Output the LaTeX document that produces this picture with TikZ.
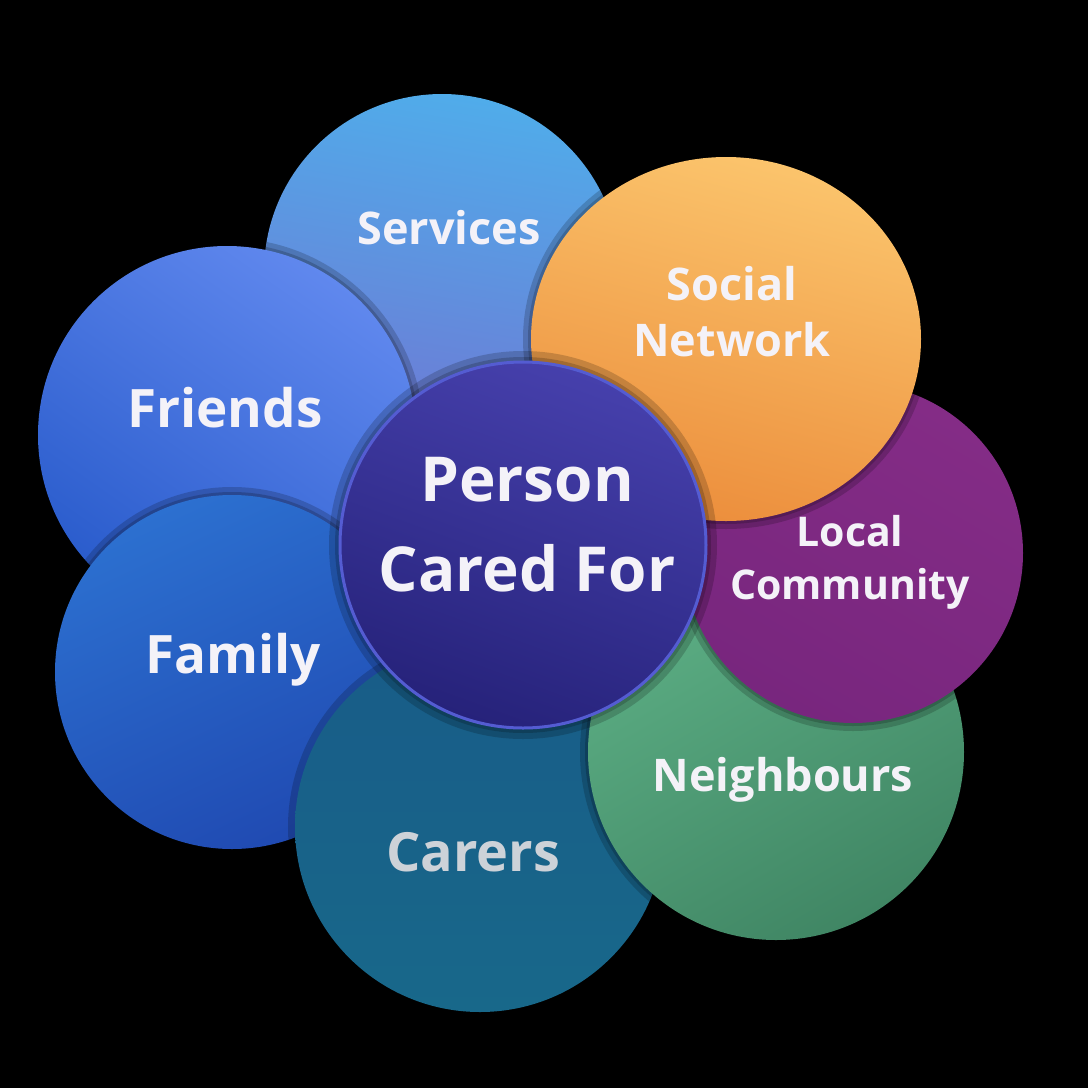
\documentclass[tikz,border=0pt]{standalone}
\usepackage{fontspec}
\setmainfont{Open Sans}
\usetikzlibrary{shapes.geometric}
\begin{document}
\begin{tikzpicture}[x=1pt,y=-1pt,
  bubble/.style={circle, inner sep=0pt, outer sep=0pt, minimum size=#1},
  lbl/.style={text={rgb,255:red,244;green,242;blue,248}, align=center, inner sep=0pt},
  shade1/.style={fill=black, fill opacity=0.18},
]
\useasboundingbox (0,0) rectangle (1088,1088);
\fill[black] (0,0) rectangle (1088,1088);

% Services
\fill[shade1] (442,272) circle (186);
\node[bubble=356pt, left color={rgb,255:red,80;green,172;blue,234}, middle color={rgb,255:red,52;green,130;blue,214}, right color={rgb,255:red,110;green,120;blue,212}, shading angle=-10] (services) at (442,272) {};
% Friends
\fill[shade1] (227,435) circle (197);
\fill[shade1] (227,435) circle (192);
\node[bubble=378pt, top color={rgb,255:red,96;green,136;blue,238}, middle color={rgb,255:red,56;green,118;blue,224}, bottom color={rgb,255:red,42;green,92;blue,204}, shading angle=-35] (friends) at (227,435) {};
% Family
\fill[shade1] (232,672) circle (185);
\fill[shade1] (232,672) circle (180);
\node[bubble=354pt, top color={rgb,255:red,44;green,112;blue,208}, bottom color={rgb,255:red,32;green,74;blue,178}, shading angle=25] (family) at (232,672) {};
% Carers
\fill[shade1] (480,827) circle (192);
\node[bubble=370pt, top color={rgb,255:red,24;green,92;blue,136}, middle color={rgb,255:red,28;green,114;blue,146}, bottom color={rgb,255:red,24;green,104;blue,138}, shading angle=0] (carers) at (480,827) {};
% Neighbours
\fill[shade1] (776,752) circle (196);
\fill[shade1] (776,752) circle (191);
\node[bubble=376pt, top color={rgb,255:red,92;green,174;blue,132}, bottom color={rgb,255:red,64;green,134;blue,100}, shading angle=30] (neighbours) at (776,752) {};
% Local Community
\fill[shade1] (853,553) circle (178);
\fill[shade1] (853,553) circle (173);
\node[bubble=340pt, top color={rgb,255:red,132;green,44;blue,134}, middle color={rgb,255:red,146;green,58;blue,144}, bottom color={rgb,255:red,120;green,38;blue,126}, shading angle=-30] (local) at (853,553) {};
% Social Network
\fill[shade1] (726,339) ellipse [x radius=203, y radius=190];
\fill[shade1] (726,339) ellipse [x radius=198, y radius=185];
\node[ellipse, inner sep=0pt, outer sep=0pt, minimum width=390pt, minimum height=364pt, top color={rgb,255:red,251;green,196;blue,108}, middle color={rgb,255:red,246;green,166;blue,80}, bottom color={rgb,255:red,236;green,142;blue,60}, shading angle=-15] (social) at (726,339) {};
% Person Cared For
\fill[shade1] (523,545) circle (194);
\fill[shade1] (523,545) circle (188);
\node[bubble=366pt, top color={rgb,255:red,70;green,64;blue,172}, bottom color={rgb,255:red,38;green,34;blue,122}, shading angle=-20, draw={rgb,255:red,84;green,92;blue,210}, line width=3pt] (person) at (523,545) {};

% Labels
\node[lbl, font=\bfseries\fontsize{45}{56}\selectfont] (services-t) at (449,228) {Services};
\node[lbl, font=\bfseries\fontsize{45}{56}\selectfont] (social-t) at (732,312) {Social\\Network};
\node[lbl, font=\bfseries\fontsize{53}{66}\selectfont] (friends-t) at (225,408) {Friends};
\node[lbl, font=\bfseries\fontsize{62}{90}\selectfont] (person-t) at (527,525) {Person\\Cared For};
\node[lbl, font=\bfseries\fontsize{41}{53}\selectfont] (local-t) at (850,562) {Local\\Community};
\node[lbl, font=\bfseries\fontsize{53}{66}\selectfont] (family-t) at (233,660) {Family};
\node[lbl, font=\bfseries\fontsize{45}{56}\selectfont] (neighbours-t) at (783,780) {Neighbours};
\node[lbl, font=\bfseries\fontsize{54}{66}\selectfont, text={rgb,255:red,205;green,210;blue,216}] (carers-t) at (473,852) {Carers};
\end{tikzpicture}
\end{document}
